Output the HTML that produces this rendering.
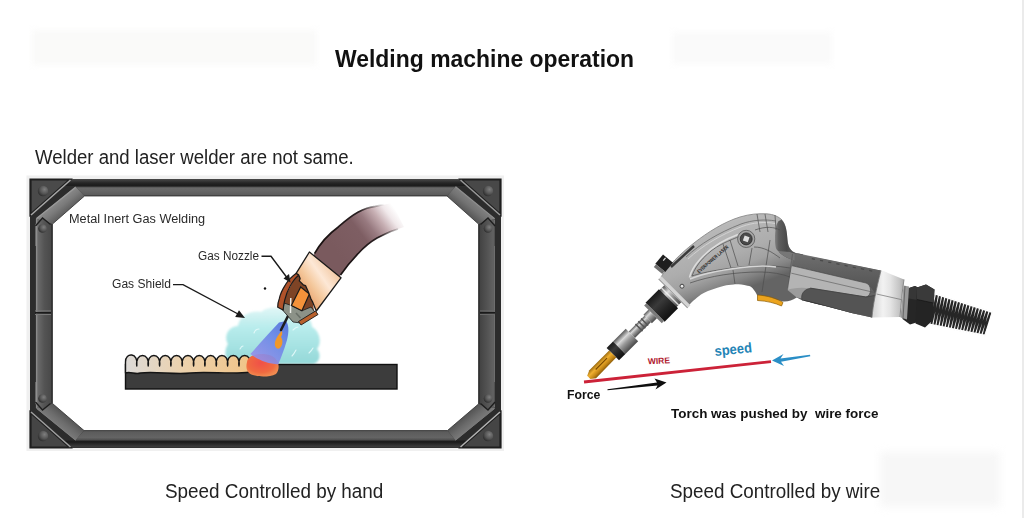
<!DOCTYPE html>
<html><head><meta charset="utf-8">
<style>
html,body{margin:0;padding:0;background:#fff;}
body{width:1024px;height:518px;position:relative;overflow:hidden;font-family:"Liberation Sans",sans-serif;}
.t{position:absolute;white-space:nowrap;line-height:1;transform-origin:0 0;}
svg{position:absolute;left:0;top:0;}
</style></head><body>
<div style="position:absolute;left:1022px;top:0;width:2px;height:518px;background:#ebebeb;"></div>
<div style="position:absolute;left:32px;top:30px;width:285px;height:35px;background:#fafaf9;filter:blur(3px);"></div>
<div style="position:absolute;left:672px;top:32px;width:160px;height:32px;background:#fafafa;filter:blur(3px);"></div>
<div style="position:absolute;left:880px;top:452px;width:120px;height:55px;background:#f7f7f7;filter:blur(4px);"></div>
<svg width="1024" height="518" viewBox="0 0 1024 518" id="frame">
<defs>
<linearGradient id="gTopCh" x1="0" y1="179" x2="0" y2="187" gradientUnits="userSpaceOnUse">
<stop offset="0" stop-color="#4a4a4a"/><stop offset="0.5" stop-color="#262626"/><stop offset="0.8" stop-color="#1c1c1c"/><stop offset="1" stop-color="#333"/>
</linearGradient>
<linearGradient id="gTopF" x1="0" y1="186.5" x2="0" y2="196" gradientUnits="userSpaceOnUse">
<stop offset="0" stop-color="#3a3a3a"/><stop offset="0.15" stop-color="#6a6a6a"/><stop offset="0.5" stop-color="#656565"/><stop offset="0.85" stop-color="#5c5c5c"/><stop offset="1" stop-color="#444"/>
</linearGradient>
<linearGradient id="gBotF" x1="0" y1="430.5" x2="0" y2="440.5" gradientUnits="userSpaceOnUse">
<stop offset="0" stop-color="#484848"/><stop offset="0.15" stop-color="#5c5c5c"/><stop offset="0.7" stop-color="#646464"/><stop offset="1" stop-color="#4a4a4a"/>
</linearGradient>
<linearGradient id="gBotCh" x1="0" y1="440" x2="0" y2="448" gradientUnits="userSpaceOnUse">
<stop offset="0" stop-color="#1a1a1a"/><stop offset="0.3" stop-color="#1e1e1e"/><stop offset="0.8" stop-color="#3a3a3a"/><stop offset="1" stop-color="#2e2e2e"/>
</linearGradient>
<linearGradient id="gLeftF" x1="36" y1="0" x2="52.5" y2="0" gradientUnits="userSpaceOnUse">
<stop offset="0" stop-color="#8e8e8e"/><stop offset="0.12" stop-color="#6a6a6a"/><stop offset="0.5" stop-color="#545454"/><stop offset="0.88" stop-color="#4a4a4a"/><stop offset="1" stop-color="#1e1e1e"/>
</linearGradient>
<linearGradient id="gRightF" x1="478.5" y1="0" x2="495" y2="0" gradientUnits="userSpaceOnUse">
<stop offset="0" stop-color="#222"/><stop offset="0.12" stop-color="#444"/><stop offset="0.5" stop-color="#525252"/><stop offset="0.9" stop-color="#626262"/><stop offset="1" stop-color="#4a4a4a"/>
</linearGradient>
<linearGradient id="gDiag" x1="0" y1="0" x2="1" y2="0">
<stop offset="0" stop-color="#858585"/><stop offset="0.5" stop-color="#6e6e6e"/><stop offset="1" stop-color="#5e5e5e"/>
</linearGradient>
<radialGradient id="gBolt" cx="0.65" cy="0.35" r="0.75">
<stop offset="0" stop-color="#7e7e7e"/><stop offset="0.55" stop-color="#555"/><stop offset="1" stop-color="#262626"/>
</radialGradient>
<linearGradient id="gDTL" x1="55.7" y1="202.6" x2="64" y2="212.7" gradientUnits="userSpaceOnUse"><stop offset="0" stop-color="#8a8a8a"/><stop offset="0.5" stop-color="#7a7a7a"/><stop offset="1" stop-color="#626262"/></linearGradient>
<linearGradient id="gDTR" x1="475.3" y1="202.6" x2="467" y2="212.7" gradientUnits="userSpaceOnUse"><stop offset="0" stop-color="#808080"/><stop offset="0.5" stop-color="#727272"/><stop offset="1" stop-color="#5a5a5a"/></linearGradient>
<linearGradient id="gDBL" x1="55.7" y1="424.4" x2="64" y2="414.3" gradientUnits="userSpaceOnUse"><stop offset="0" stop-color="#7a7a7a"/><stop offset="0.5" stop-color="#6c6c6c"/><stop offset="1" stop-color="#585858"/></linearGradient>
<linearGradient id="gDBR" x1="475.3" y1="424.4" x2="467" y2="414.3" gradientUnits="userSpaceOnUse"><stop offset="0" stop-color="#7a7a7a"/><stop offset="0.5" stop-color="#6a6a6a"/><stop offset="1" stop-color="#555"/></linearGradient>
</defs>
<rect x="26.5" y="175.5" width="477.5" height="275.5" fill="#f0f0f0"/>
<rect x="30" y="179" width="471" height="269" fill="#2c2c2c"/>
<rect x="30" y="179" width="471" height="7.5" fill="url(#gTopCh)"/>
<rect x="30" y="440.5" width="471" height="7.5" fill="url(#gBotCh)"/>
<!-- faces -->
<polygon points="75.4,186.5 455.6,186.5 447,196 84.5,196" fill="url(#gTopF)"/>
<polygon points="84,430.5 447.5,430.5 455.6,440.5 75.4,440.5" fill="url(#gBotF)"/>
<polygon points="36,218.8 52.5,224 52.5,403.5 36,408.2" fill="url(#gLeftF)"/>
<polygon points="495,218.8 478.5,224 478.5,404 495,408.2" fill="url(#gRightF)"/>
<polygon points="36,218.8 75.4,186.5 84.5,196 52.5,224" fill="url(#gDTL)"/>
<polygon points="455.6,186.5 495,218.8 478.5,224 447,196" fill="url(#gDTR)"/>
<polygon points="36,408.2 75.4,440.5 84,430.5 52.5,403.5" fill="url(#gDBL)"/>
<polygon points="455.6,440.5 495,408.2 478.5,404 447.5,430.5" fill="url(#gDBR)"/>
<!-- face highlight lines -->
<path d="M36.5,218.5 L75.5,187.5" fill="none" stroke="#9a9a9a" stroke-width="1.2"/>
<path d="M36.5,218.5 L36.5,408" fill="none" stroke="#8a8a8a" stroke-width="1.2"/>
<path d="M455.6,186.8 L494.6,218.6" fill="none" stroke="#8e8e8e" stroke-width="1.2"/>
<path d="M36.8,408.5 L75.5,440" fill="none" stroke="#7e7e7e" stroke-width="1"/>
<path d="M455.6,440 L494.6,408.5" fill="none" stroke="#7a7a7a" stroke-width="1"/>
<path d="M494.5,220 L494.5,407" fill="none" stroke="#6e6e6e" stroke-width="1"/>
<!-- corner plates -->
<polygon points="30.5,179.5 70,179.5 30.5,214.5" fill="#4a4a4a" stroke="#1e1e1e" stroke-width="2.2"/>
<polygon points="461,179.5 500.5,179.5 500.5,214.5" fill="#484848" stroke="#1e1e1e" stroke-width="2.2"/>
<polygon points="30.5,447.5 30.5,412.5 70,447.5" fill="#454545" stroke="#1e1e1e" stroke-width="2.2"/>
<polygon points="500.5,447.5 500.5,412.5 461,447.5" fill="#454545" stroke="#1e1e1e" stroke-width="2.2"/>
<line x1="31" y1="215" x2="70.5" y2="180" stroke="#a8a8a8" stroke-width="1.5"/>
<line x1="460.5" y1="180" x2="500" y2="215" stroke="#9a9a9a" stroke-width="1.5"/>
<line x1="31" y1="412" x2="70.5" y2="447" stroke="#a0a0a0" stroke-width="1.5"/>
<line x1="500" y1="412" x2="460.5" y2="447" stroke="#b4b4b4" stroke-width="1.5"/>
<!-- chevron ends of side bars -->
<polygon points="35.5,246 35.5,224 42.5,218 50.5,224 50.5,246" fill="url(#gLeftF)"/>
<polygon points="35.5,382 35.5,404 42.5,410 50.5,404 50.5,382" fill="url(#gLeftF)"/>
<polygon points="480.5,246 480.5,224 488,218 495,224 495,246" fill="url(#gRightF)"/>
<polygon points="480.5,382 480.5,404 488,410 495,404 495,382" fill="url(#gRightF)"/>
<path d="M35.5,226 L42.5,218 L50.5,224.5" fill="none" stroke="#1e1e1e" stroke-width="1.3"/>
<path d="M35.5,402 L42.5,410 L50.5,403.5" fill="none" stroke="#1e1e1e" stroke-width="1.3"/>
<path d="M480.5,224.5 L488,218 L495,226" fill="none" stroke="#1e1e1e" stroke-width="1.3"/>
<path d="M480.5,403.5 L488,410 L495,402" fill="none" stroke="#1e1e1e" stroke-width="1.3"/>
<path d="M36.5,226 L36.5,246" stroke="#8e8e8e" stroke-width="1.2"/>
<path d="M36.5,382 L36.5,402" stroke="#8e8e8e" stroke-width="1.2"/>
<!-- bolts -->
<circle cx="43" cy="191" r="5.2" fill="url(#gBolt)"/>
<circle cx="488" cy="191" r="5.2" fill="url(#gBolt)"/>
<circle cx="43" cy="436" r="5.2" fill="url(#gBolt)"/>
<circle cx="488" cy="436" r="5.2" fill="url(#gBolt)"/>
<circle cx="42.5" cy="228.5" r="4.3" fill="url(#gBolt)"/>
<circle cx="42.5" cy="398.5" r="4.3" fill="url(#gBolt)"/>
<circle cx="488" cy="228.5" r="4.3" fill="url(#gBolt)"/>
<circle cx="488" cy="398.5" r="4.3" fill="url(#gBolt)"/>
<!-- seams -->
<rect x="35" y="312" width="16" height="1.6" fill="#1a1a1a"/>
<rect x="35" y="310.4" width="16" height="1" fill="#7a7a7a"/>
<rect x="35" y="314" width="16" height="1" fill="#7a7a7a"/>
<rect x="480" y="312" width="15" height="1.6" fill="#1a1a1a"/>
<rect x="480" y="310.4" width="15" height="1" fill="#6a6a6a"/>
<rect x="480" y="314" width="15" height="1" fill="#6a6a6a"/>
<!-- inner white -->
<polygon points="84.5,196 447,196 478.5,224 478.5,404 447.5,430.5 84,430.5 52.5,403.5 52.5,224" fill="#fff"/>
<polygon points="84.5,196 447,196 478.5,224 478.5,404 447.5,430.5 84,430.5 52.5,403.5 52.5,224" fill="none" stroke="#333" stroke-width="0.8"/>
</svg>

<svg width="1024" height="518" viewBox="0 0 1024 518" id="mig-ill">
<defs>
<linearGradient id="gHose" x1="338" y1="254" x2="396" y2="210" gradientUnits="userSpaceOnUse">
<stop offset="0" stop-color="#7a5a5e"/><stop offset="0.42" stop-color="#7e5e63"/><stop offset="0.58" stop-color="#987a80"/><stop offset="0.74" stop-color="#c6aeb2"/><stop offset="0.88" stop-color="#f0e8ea"/><stop offset="1" stop-color="#ffffff"/>
</linearGradient>
<linearGradient id="gHoseEdge" x1="338" y1="254" x2="396" y2="210" gradientUnits="userSpaceOnUse">
<stop offset="0" stop-color="#1a1212" stop-opacity="1"/><stop offset="0.6" stop-color="#2a2022" stop-opacity="1"/><stop offset="0.92" stop-color="#2a2022" stop-opacity="0"/>
</linearGradient>
<linearGradient id="gCollar" x1="302" y1="292" x2="336" y2="268" gradientUnits="userSpaceOnUse">
<stop offset="0" stop-color="#eaa470"/><stop offset="0.3" stop-color="#f4c89c"/><stop offset="0.6" stop-color="#fde8d6"/><stop offset="1" stop-color="#f0c49c"/>
</linearGradient>
<linearGradient id="gBead" x1="125" y1="0" x2="250" y2="0" gradientUnits="userSpaceOnUse">
<stop offset="0" stop-color="#dcdad8"/><stop offset="0.45" stop-color="#ecd2ae"/><stop offset="1" stop-color="#f0c488"/>
</linearGradient>
<linearGradient id="gCloud" x1="0" y1="308" x2="0" y2="364" gradientUnits="userSpaceOnUse">
<stop offset="0" stop-color="#e0f6f6"/><stop offset="0.35" stop-color="#b8ecec"/><stop offset="0.75" stop-color="#a2e0e0"/><stop offset="1" stop-color="#94d8d8"/>
</linearGradient>
<filter id="fSoft" x="-10%" y="-10%" width="120%" height="120%"><feGaussianBlur stdDeviation="0.9"/></filter>
<linearGradient id="gFlame" x1="290" y1="320" x2="258" y2="360" gradientUnits="userSpaceOnUse">
<stop offset="0" stop-color="#4a68d8"/><stop offset="0.45" stop-color="#6884e6"/><stop offset="1" stop-color="#9490ea"/>
</linearGradient>
<radialGradient id="gPuddle" cx="0.45" cy="0.4" r="0.6">
<stop offset="0" stop-color="#f05048"/><stop offset="0.7" stop-color="#f06a40"/><stop offset="1" stop-color="#f08a50"/>
</radialGradient>
</defs>
<!-- gas cloud -->
<path d="M232,364 C224,360 224,350 228,344 C223,336 229,326 238,326 C239,316 251,310 261,312 C269,305 284,307 290,313 C300,309 312,317 312,327 C320,331 322,343 317,349 C322,355 319,363 313,364 Z" fill="url(#gCloud)" filter="url(#fSoft)"/>
<g fill="none" stroke="#e6fafa" stroke-width="1.1" stroke-linecap="round" opacity="0.9">
<path d="M254,333 C255,330 257,329 259,329"/><path d="M293,330 C295,328 296,327 298,327"/><path d="M292,356 C294,354 295,352 296,350"/><path d="M309,353 C311,351 312,350 313,348"/><path d="M240,349 C241,347 242,346 243,346"/>
</g>
<!-- plate -->
<rect x="125.5" y="364.5" width="271.5" height="24.5" fill="#3c3c3c" stroke="#111" stroke-width="1.4"/>
<!-- bead -->
<path d="M125.5,373 L125.5,362 C125.0,352 139.0,352 136.8,366 C134.7,352 150.4,352 148.2,366 C146.0,352 161.8,352 159.6,366 C157.4,352 173.1,352 170.9,366 C168.7,352 184.4,352 182.2,366 C180.1,352 195.8,352 193.6,366 C191.4,352 207.1,352 204.9,366 C202.8,352 218.5,352 216.3,366 C214.1,352 229.8,352 227.6,366 C225.4,352 241.2,352 239.0,366 C236.8,352 252.5,352 250.3,366 L250.3,372 C230.3,375 210.3,371 190.3,373 C175.3,375 155.3,371 140.3,373 C135.3,375 130.5,371 125.5,373 Z" fill="url(#gBead)" stroke="#151515" stroke-width="1.4" stroke-linejoin="round"/>
<!-- puddle -->
<path d="M247,362 C248,354 262,352 272,356 C280,360 280,370 276,374 C268,378 254,377 249,373 C246,370 246,366 247,362 Z" fill="url(#gPuddle)"/>
<!-- flame -->
<path d="M286,321 L279,322.5 C270,332 260,343 250.4,354 C258,360 268,364 278.2,364.4 C281,358 284,350 287,340 C289,332 289,325 286,321 Z" fill="url(#gFlame)" opacity="0.9"/>
<path d="M281.7,330.8 C279,334 276,338 275,342 C274,347 277,350 280,348 C283,345 283,340 281,337 C282,335 283,333 281.7,330.8 Z" fill="#f0982a"/>
<path d="M290,312 L281,330" stroke="#1e1e1e" stroke-width="2.6" stroke-linecap="round"/>
<!-- hose -->
<path d="M308,265 L314.5,253.7 C322,240 330,233 338.6,226.7 C345,221 351,216 357.9,212.2 C364,209 370,207 375.3,206.4 L392,203 L404,227 L390.7,231.5 C385,234 381,236 377,238 C370,242 364,247 358,253.7 C352,260 346,267 340.5,275 L334,285 Z" fill="url(#gHose)"/>
<path d="M314.5,253.7 C322,240 330,233 338.6,226.7 C345,221 351,216 357.9,212.2 C364,209 370,207 375.3,206.4 L386,204" fill="none" stroke="url(#gHoseEdge)" stroke-width="1.7"/>
<path d="M340.5,275 C346,267 352,260 358,253.7 C364,247 370,242 377,238 C381,236 385,234 390.7,231.5 L398,229" fill="none" stroke="url(#gHoseEdge)" stroke-width="1.7"/>
<!-- nozzle inner brown -->
<path d="M297,274 L310,284 L314,311 L300,322 L283,310 L284,299 Z" fill="#7e4426"/>
<!-- contact tip silver -->
<path d="M284,303 L291.4,305.5 L301.9,310.8 L311,307 L315,312 L301,323 L293,322 L283,310.5 Z" fill="#8c9288" stroke="#1a1a1a" stroke-width="0.8"/>
<path d="M290.8,298 L290.5,313" stroke="#eef0ea" stroke-width="1.5"/>
<path d="M296,313 L300.5,318" stroke="#6a7068" stroke-width="1.6"/>
<!-- orange block -->
<path d="M300.7,287 L309.4,294 L301.9,310.8 L291.4,305.5 Z" fill="#f4923a" stroke="#1a1a1a" stroke-width="1.2"/>
<!-- outer shell -->
<path d="M296.3,273.2 C291,277 287,282 285.4,284.8 C282,290 280,295 279.3,298.7 C278,302 277.7,305 277.7,307.2 L283.1,310 C283.5,306 284,303 284.7,300.2 C286,295 288,290 290.1,286.3 C293,281 296,277 298.6,275.5 Z" fill="#b0522a" stroke="#1a1a1a" stroke-width="1.2"/>
<!-- collar -->
<path d="M309.4,252 L341,277.8 L316.3,311 L312.5,301.8 L310.9,298.7 L308.6,292.5 L305.5,285.6 L303.2,284.8 L299.3,280.9 L300.1,278.6 L298.6,274.7 L296.3,273.2 Z" fill="url(#gCollar)" stroke="#1a1a1a" stroke-width="1.3" stroke-linejoin="round"/>
<!-- collar bottom copper band -->
<path d="M298.5,321.5 L315.5,311 L318,314.5 L301,325 Z" fill="#b8602c" stroke="#1a1a1a" stroke-width="0.9"/>
<!-- leaders -->
<path d="M261.5,256.3 L271,256.3 L288,279" fill="none" stroke="#1a1a1a" stroke-width="1.4"/>
<path d="M290.5,282.5 L283.5,278.5 L289,274 Z" fill="#1a1a1a"/>
<path d="M173,284.6 L183,284.6 L239,314.5" fill="none" stroke="#1a1a1a" stroke-width="1.4"/>
<path d="M245,318 L235.2,317 L239,310.3 Z" fill="#1a1a1a"/>
<circle cx="265" cy="288.5" r="1.2" fill="#111"/>
</svg>

<svg width="1024" height="518" viewBox="0 0 1024 518" id="gun">
<defs>
<linearGradient id="gHead" x1="722" y1="218" x2="748" y2="288" gradientUnits="userSpaceOnUse">
<stop offset="0" stop-color="#cacaca"/><stop offset="0.1" stop-color="#b8b8b8"/><stop offset="0.5" stop-color="#adadad"/><stop offset="0.68" stop-color="#a2a2a2"/><stop offset="0.85" stop-color="#858585"/><stop offset="1" stop-color="#646464"/>
</linearGradient>
<linearGradient id="gHeadBot" x1="0" y1="272" x2="0" y2="305" gradientUnits="userSpaceOnUse">
<stop offset="0" stop-color="#9a9a9a"/><stop offset="0.5" stop-color="#808080"/><stop offset="1" stop-color="#6a6a6a"/>
</linearGradient>
<linearGradient id="gCrook" x1="774" y1="0" x2="790" y2="0" gradientUnits="userSpaceOnUse">
<stop offset="0" stop-color="#8a8a8a"/><stop offset="0.3" stop-color="#5e5e5e"/><stop offset="0.8" stop-color="#4a4a4a"/><stop offset="1" stop-color="#555"/>
</linearGradient>
<linearGradient id="gCollarG" x1="874" y1="0" x2="904" y2="0" gradientUnits="userSpaceOnUse">
<stop offset="0" stop-color="#d8d8d8"/><stop offset="0.3" stop-color="#f2f2f2"/><stop offset="0.55" stop-color="#e4e4e4"/><stop offset="0.85" stop-color="#c4c4c4"/><stop offset="1" stop-color="#a8a8a8"/>
</linearGradient>
<linearGradient id="gCyl" x1="0" y1="0" x2="1" y2="0">
<stop offset="0" stop-color="#5a5a5a"/><stop offset="0.3" stop-color="#d8d8d8"/><stop offset="0.55" stop-color="#9a9a9a"/><stop offset="1" stop-color="#4a4a4a"/>
</linearGradient>
<linearGradient id="gBlk" x1="0" y1="0" x2="1" y2="0">
<stop offset="0" stop-color="#1a1a1a"/><stop offset="0.35" stop-color="#3a3a3a"/><stop offset="0.7" stop-color="#222"/><stop offset="1" stop-color="#111"/>
</linearGradient>
<linearGradient id="gBrass" x1="0" y1="0" x2="1" y2="0">
<stop offset="0" stop-color="#9a6a10"/><stop offset="0.35" stop-color="#f0b030"/><stop offset="0.7" stop-color="#c88a18"/><stop offset="1" stop-color="#8a5a08"/>
</linearGradient>
</defs>
<!-- spring -->
<path d="M934.6,294.6 L991.4,312.8 L984.6,334.5 L929.2,323.6 Z" fill="#262626"/>
<g id="ribs" fill="#fafafa"><polygon points="934.9,292.6 936.3,293.1 932.8,307.8"/><polygon points="928.7,325.5 930.2,325.9 932.3,310.7"/><polygon points="938.1,293.6 939.5,294.1 935.9,308.6"/><polygon points="931.8,326.1 933.2,326.5 935.4,311.5"/><polygon points="941.2,294.6 942.6,295.1 939.0,309.5"/><polygon points="934.9,326.7 936.3,327.1 938.5,312.3"/><polygon points="944.4,295.6 945.8,296.1 942.2,310.3"/><polygon points="937.9,327.3 939.4,327.7 941.6,313.1"/><polygon points="947.5,296.7 949.0,297.1 945.3,311.1"/><polygon points="941.0,327.9 942.4,328.3 944.7,313.9"/><polygon points="950.7,297.7 952.1,298.1 948.4,312.0"/><polygon points="944.1,328.5 945.5,328.9 947.8,314.6"/><polygon points="953.9,298.7 955.3,299.1 951.5,312.8"/><polygon points="947.1,329.1 948.6,329.5 950.9,315.4"/><polygon points="957.1,299.7 958.5,300.2 954.6,313.6"/><polygon points="950.2,329.7 951.6,330.1 954.0,316.2"/><polygon points="960.2,300.7 961.6,301.2 957.8,314.4"/><polygon points="953.3,330.3 954.7,330.7 957.2,317.0"/><polygon points="963.4,301.7 964.8,302.2 960.9,315.3"/><polygon points="956.3,330.9 957.8,331.3 960.3,317.8"/><polygon points="966.6,302.7 968.0,303.2 964.0,316.1"/><polygon points="959.4,331.5 960.8,331.9 963.4,318.6"/><polygon points="969.7,303.8 971.2,304.2 967.1,316.9"/><polygon points="962.5,332.1 963.9,332.5 966.5,319.4"/><polygon points="972.9,304.8 974.3,305.2 970.2,317.8"/><polygon points="965.5,332.7 967.0,333.2 969.6,320.2"/><polygon points="976.1,305.8 977.5,306.2 973.4,318.6"/><polygon points="968.6,333.3 970.0,333.8 972.7,321.0"/><polygon points="979.2,306.8 980.7,307.3 976.5,319.4"/><polygon points="971.7,333.9 973.1,334.4 975.8,321.7"/><polygon points="982.4,307.8 983.8,308.3 979.6,320.2"/><polygon points="974.7,334.5 976.1,335.0 978.9,322.5"/><polygon points="985.6,308.8 987.0,309.3 982.7,321.1"/><polygon points="977.8,335.1 979.2,335.6 982.1,323.3"/><polygon points="988.7,309.8 990.2,310.3 985.8,321.9"/><polygon points="980.8,335.7 982.3,336.2 985.2,324.1"/><polygon points="991.9,310.9 993.3,311.3 989.0,322.7"/><polygon points="983.9,336.3 985.3,336.8 988.3,324.9"/></g>
<!-- nut -->
<path d="M906,289 L915,286 L918,287.5 L918,322 L910,324.5 L902.5,319 Z" fill="#262626"/>
<path d="M906,289 L915,286 L918,287.5 L918,300 L905,298 Z" fill="#363636"/>
<path d="M917,287.5 L926,284.5 L934.5,289.5 L932.5,320.5 L925,327.5 L915.5,323.5 Z" fill="#242424"/>
<path d="M917,287.5 L926,284.5 L934.5,289.5 L933.5,303 L917,299.5 Z" fill="#3a3a3a"/>
<path d="M917,299.5 L933.5,303" stroke="#111" stroke-width="0.6"/>
<path d="M903.5,285.5 L909,286.5 L907,319.5 L900.5,317.5 Z" fill="#9a9a9a"/><path d="M905,286 L903,318.5" stroke="#5a5a5a" stroke-width="0.8"/>
<clipPath id="cpGun"><path id="gunSil" d="M661,277 C668,266 680,254 694,243 C708,232 724,222 740,217 C750,214 758,213.5 766,213.8 C774,214.2 779,217 782,220 C786,224 787,232 787.5,240 C788,248 792,253 798.6,253.6 L881,270.5 L876.6,294.5 L872,317.6 L851.8,313 C835,309 815,303 802.4,300.6 L796.7,297.4 C792,300 788,302 783,301.5 L757,295 C756,293 755,291 754.3,290.5 C752,287 750,286 747.5,285.8 C742,284.5 738,284.2 733.8,284.4 C726,285 722,286 717.4,287.8 C710,290 705,292 701,294.6 C696,298 690,304 687.3,307 Z"/></clipPath>
<g clip-path="url(#cpGun)">
<rect x="650" y="200" width="240" height="130" fill="url(#gHead)"/>
<!-- crook dark C -->
<path d="M778.4,221.2 C775,226 775,234 775,240 C775,246 776,250 778.4,251 C781,255 786,257.7 794.6,260.4 L800,262 L805,250 L795,240 L790,215 Z" fill="url(#gCrook)"/>
<!-- handle upper grip -->
<linearGradient id="gGripU" x1="0" y1="254" x2="0" y2="290" gradientUnits="userSpaceOnUse"><stop offset="0" stop-color="#6e6e6e"/><stop offset="0.5" stop-color="#606060"/><stop offset="1" stop-color="#545454"/></linearGradient>
<path d="M793,253 L881,270.5 L877,296 L867.8,283.2 L792,265.7 Z" fill="url(#gGripU)"/>
<path d="M778.4,251 C781,255 786,257.7 794.6,260.4 L794.6,254 L790,252 Z" fill="#777"/>
<!-- left light region -->
<path d="M792,265.7 L811,270 L811,300 L796.7,297.4 L787.5,290 Z" fill="#9c9c9c"/>
<!-- light panel -->
<path d="M792,265.7 L866,283 C872,284.5 872,296 866,297 L810,288.2 C800,287 792,288 787.5,290 Z" fill="#b4b4b4"/>
<path d="M792,265.7 L866,283 C872,284.5 872,296 866,297 L810,288.2" fill="none" stroke="#4a4a4a" stroke-width="0.7"/>
<path d="M791.3,273.2 L880.4,293.9" stroke="#555" stroke-width="0.6"/>
<path d="M792.5,254 L787.5,290" stroke="#555" stroke-width="0.6"/>
<!-- lower grip -->
<path d="M811,288.2 L866,297 L877,295 L872,320 L851.8,314 C835,310 815,304 802.4,300.6 C800,296 803,289 811,288.2 Z" fill="#545454" stroke="#3a3a3a" stroke-width="0.6"/>
<path d="M804,301 C825,306 842,311 866,318" fill="none" stroke="#333" stroke-width="1.8"/>
</g>
<!-- ridges -->
<g fill="#4a4a4a"><rect x="812.0" y="258.0" width="3.2" height="1.3" transform="rotate(11.6 812.0 257.4)"/><rect x="820.2" y="259.7" width="3.2" height="1.3" transform="rotate(11.6 820.2 259.1)"/><rect x="828.4" y="261.4" width="3.2" height="1.3" transform="rotate(11.6 828.4 260.8)"/><rect x="836.6" y="263.1" width="3.2" height="1.3" transform="rotate(11.6 836.6 262.5)"/><rect x="844.8" y="264.8" width="3.2" height="1.3" transform="rotate(11.6 844.8 264.2)"/><rect x="853.0" y="266.5" width="3.2" height="1.3" transform="rotate(11.6 853.0 265.9)"/><rect x="861.2" y="268.1" width="3.2" height="1.3" transform="rotate(11.6 861.2 267.5)"/><rect x="869.4" y="269.8" width="3.2" height="1.3" transform="rotate(11.6 869.4 269.2)"/></g>
<!-- head edges -->
<path d="M661,277 C668,266 680,254 694,243 C708,232 724,222 740,217 C750,214 758,213.5 766,213.8 C774,214.2 779,217 782,220" fill="none" stroke="#8a8a8a" stroke-width="0.9"/>
<path d="M686,257 C700,244 718,233 741,224 C752,220 765,219 776,221" fill="none" stroke="#6a6a6a" stroke-width="0.8"/>
<path d="M688,259 C702,246 720,235 742,226.5 C753,222.5 765,221.5 775,223.5" fill="none" stroke="#d2d2d2" stroke-width="1"/>
<g fill="none" stroke="#4e4e4e" stroke-width="0.7">
<path d="M692,276 C696,264 708,251 722,244 C730,240 736,238 740,236"/>
<path d="M692,276 C704,272 726,268 752,266 C765,265 778,266 790,268"/>
<path d="M757,214 L760,232"/><path d="M765,214 L768,232"/><path d="M775,215 L776,230"/>
<path d="M723,244 L731,268"/><path d="M730,240 L738,266"/><path d="M752,248 L749,265"/><path d="M770,240 L762,292"/>
<path d="M755,230 C766,226 774,227 780,230"/>
<path d="M754,247 C764,247 772,252 780,258"/>
<path d="M733,270 L735,284"/>
<path d="M690,283 C710,276 735,272 760,272 C772,272 782,274 790,277"/>
</g>
<path d="M689.5,277.5 C692,266 705,252 720,243 C728,238 734,236 738,234.5" fill="none" stroke="#dcdcdc" stroke-width="1.6"/>
<path d="M690,279 C702,274 726,269 752,266.5 C762,265.5 770,266 776,267" fill="none" stroke="#d6d6d6" stroke-width="1.4"/>
<!-- button -->
<circle cx="746.2" cy="238.9" r="8.6" fill="#a6a6a6" stroke="#555" stroke-width="0.8"/>
<circle cx="746.2" cy="238.9" r="6" fill="#4a4a4a" stroke="#2a2a2a" stroke-width="0.8"/>
<rect x="743.6" y="236.3" width="5.2" height="5.2" fill="#dedede" transform="rotate(20 746.2 238.9)"/>
<!-- label -->
<text x="0" y="0" font-family="Liberation Sans" font-size="5" font-weight="bold" fill="#262626" transform="translate(699,273.5) rotate(-41) scale(0.78,1)">EVERPOWER  LASER</text>
<!-- slot -->
<path d="M671,267 L694,246" stroke="#3a3a3a" stroke-width="2.4"/>
<circle cx="682" cy="286.2" r="2" fill="#e8e8e8" stroke="#444" stroke-width="1"/>
<!-- collar -->
<path d="M881,270.5 C884,271 886,272 888,273 L904,279.5 C902,292 901,305 900,317 L872,317.6 C873,305 876,290 881,270.5 Z" fill="url(#gCollarG)"/>
<path d="M876.5,294 L901,299.5" stroke="#707070" stroke-width="0.7"/>
<path d="M881,270.5 C876,290 873,305 872,317.6" fill="none" stroke="#777" stroke-width="0.8"/>
<path d="M904,279.5 C902,292 901,305 900,317" fill="none" stroke="#8a8a8a" stroke-width="1"/>
<!-- trigger -->
<path d="M757.5,295 C767,295.5 777,298.5 783,302.5 L781.5,306 C775,303 767,301 757.5,300.5 Z" fill="#eca41e" stroke="#8a5a00" stroke-width="0.7"/>
<!-- knob -->
<g transform="translate(663.5,264) rotate(40)">
<rect x="-6.5" y="-7" width="13" height="12" fill="#1e1e1e"/>
<rect x="-5.5" y="5" width="11" height="3.5" fill="#707070"/>
<rect x="-3" y="-6" width="1.2" height="3.5" fill="#ddd"/>
</g>
<!-- front assembly -->
<g transform="translate(667.1,299.5) rotate(45)">
<rect x="-20.5" y="-12.5" width="41" height="4" fill="#d4d4d4"/>
<rect x="-20.5" y="-9" width="41" height="1" fill="#8a8a8a"/>
<rect x="-12" y="-8" width="24" height="8" fill="url(#gCyl)"/>
<rect x="-12" y="-5" width="24" height="1.6" fill="#f4f4f4" opacity="0.8"/>
<rect x="-13" y="-1.5" width="27" height="19" fill="url(#gBlk)"/>
<rect x="-12" y="17.5" width="25" height="3" fill="#7a7a7a"/>
<rect x="-6" y="20.5" width="12" height="7" fill="url(#gCyl)"/>
<rect x="-4.5" y="27.5" width="9" height="22.5" fill="url(#gCyl)"/>
<rect x="-5" y="31" width="10" height="1.5" fill="#555"/><rect x="-5" y="35" width="10" height="1.5" fill="#555"/><rect x="-5" y="39" width="10" height="1.5" fill="#555"/>
<rect x="-8.5" y="50" width="17.5" height="18" fill="url(#gCyl)"/>
<rect x="-8.5" y="68" width="17.5" height="9" fill="url(#gBlk)"/>
<path d="M-5,77 L5,77 L5.5,106 L2,110.5 L-2.5,110.5 L-5,105 Z" fill="url(#gBrass)"/><path d="M-1,84 L-1,100" stroke="#7a4a00" stroke-width="1.2"/>
</g>
<!-- wire & arrows -->
<line x1="584" y1="382" x2="771" y2="361.7" stroke="#cc2238" stroke-width="2.8"/>
<path d="M607.5,389.3 L657,382.6 L654.5,378.4 L666.5,382.5 L655.5,389.6 L657.5,385.4 L607.5,390.3 Z" fill="#0e0e0e"/>
<path d="M772,360.5 L783.5,354 L780.5,358.4 L810,354.8 L810.3,356.2 L781,361.8 L784,366 Z" fill="#2a8ec6"/>
<text x="0" y="0" font-family="Liberation Sans" font-size="8.5" font-weight="bold" fill="#b02030" transform="translate(648,364.3) rotate(-3)">WIRE</text>
<text x="0" y="0" font-family="Liberation Sans" font-size="14" font-weight="bold" fill="#2484b6" transform="translate(715,356) rotate(-6) scale(0.93,1)">speed</text>
</svg>

<div class="t" id="title" style="transform:scaleX(0.976);left:335px;top:47.6px;font-size:23.5px;font-weight:bold;color:#111;">Welding machine operation</div>
<div class="t" id="sub" style="transform:scaleX(0.929);left:34.5px;top:146.8px;font-size:20px;color:#222;">Welder and laser welder are not same.</div>
<div class="t" id="cap1" style="transform:scaleX(0.944);left:164.5px;top:481.1px;font-size:20px;color:#222;">Speed Controlled by hand</div>
<div class="t" id="cap2" style="transform:scaleX(0.941);left:669.5px;top:481.1px;font-size:20px;color:#222;">Speed Controlled by wire</div>
<div class="t" id="torch" style="transform:scaleX(0.996);left:671px;top:407.2px;font-size:13.5px;font-weight:bold;color:#111;">Torch was pushed by&nbsp; wire force</div>
<div class="t" id="force" style="transform:scaleX(0.909);left:566.5px;top:387.6px;font-size:13.5px;font-weight:bold;color:#111;">Force</div>
<div class="t" id="mig" style="transform:scaleX(1.017);left:68.5px;top:213.4px;font-size:12.5px;color:#2a2a2a;">Metal Inert Gas Welding</div>
<div class="t" id="noz" style="transform:scaleX(0.944);left:197.5px;top:249.8px;font-size:12.5px;color:#2a2a2a;">Gas Nozzle</div>
<div class="t" id="shield" style="transform:scaleX(0.965);left:112px;top:278.1px;font-size:12.5px;color:#2a2a2a;">Gas Shield</div>
</body></html>
